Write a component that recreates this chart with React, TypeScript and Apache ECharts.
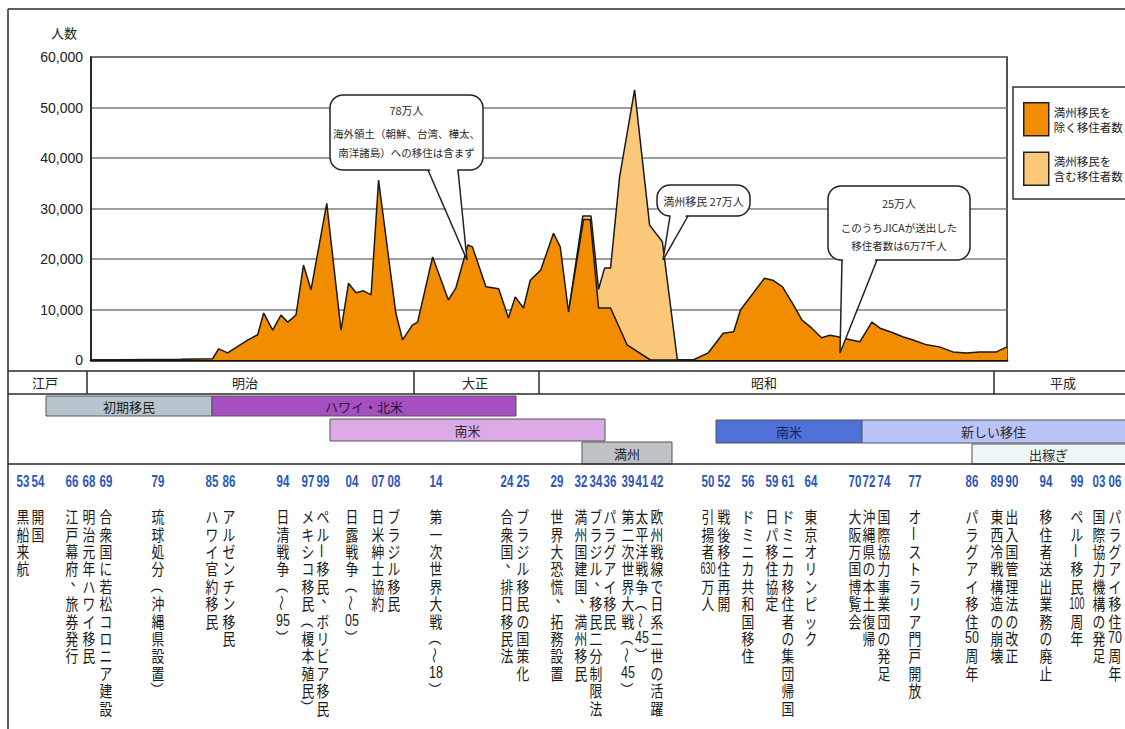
import React, { useEffect, useRef } from "react";
import * as echarts from "echarts";

const JP = "'Noto Sans CJK JP', 'Noto Sans', sans-serif";
const LAT = "'Liberation Sans', 'Noto Sans', sans-serif";

// ---------- data ----------
const yTicks = [0, 10000, 20000, 30000, 40000, 50000, 60000];
const yTickLabels = ["0", "10,000", "20,000", "30,000", "40,000", "50,000", "60,000"];
const yAxisTitle = "人数";

const seriesNames = ["満州移民を\n除く移住者数", "満州移民を\n含む移住者数"];

// 満州移民を除く移住者数
const excludeYears = [
  1868, 1880, 1884.2, 1885.0, 1886.2, 1888.9, 1890.2, 1891.0, 1892.2, 1893.3, 1894.2, 1895.3,
  1896.3, 1897.3, 1899.4, 1901.3, 1902.3, 1903.3, 1904.3, 1905.3, 1906.3, 1908.6, 1909.5,
  1910.8, 1911.5, 1913.5, 1915.6, 1916.6, 1918.2, 1918.8, 1920.6, 1922.3, 1923.6, 1924.5,
  1925.6, 1926.5, 1927.9, 1929.6, 1930.5, 1931.6, 1933.6, 1934.5, 1935.6, 1937.2, 1939.4,
  1942.5, 1948.2, 1950.2, 1952.2, 1953.6, 1954.5, 1957.7, 1958.8, 1960.1, 1961.4, 1962.7,
  1964.0, 1965.3, 1966.4, 1967.5, 1969.1, 1970.4, 1972.0, 1973.1, 1974.8, 1976.1, 1977.4,
  1979.3, 1981.0, 1982.8, 1984.6, 1986.3, 1988.6, 1990,
];
const excludeValues = [
  0, 150, 250, 2200, 1400, 4000, 5000, 9300, 5900, 8900, 7500, 8900,
  18800, 13900, 31000, 5900, 15200, 13300, 13700, 12900, 35600, 9300, 4000,
  6900, 7500, 20400, 11900, 14300, 22800, 22400, 14500, 14100, 8300, 12500,
  10300, 15800, 17800, 25100, 22400, 9500, 27800, 27800, 10300, 10300, 3000,
  0, 0, 1400, 5300, 5600, 9900, 16200, 15800, 14500, 11300, 7900,
  6300, 4400, 4900, 4600, 4000, 3600, 7500, 6300, 5400, 4600, 4000,
  3000, 2600, 1600, 1400, 1600, 1600, 2600,
];

// 満州移民を含む移住者数 (differs only in the 1930s-40s)
const includeYears = [1931.6, 1933.5, 1934.6, 1935.6, 1936.4, 1937.2, 1938.4, 1940.4, 1942.4, 1944.1, 1946.1];
const includeValues = [9500, 28500, 28500, 14000, 18200, 18200, 36200, 53500, 26700, 23400, 0];

const eraNames = ["江戸", "明治", "大正", "昭和", "平成"];
const bandNames = ["初期移民", "ハワイ・北米", "南米", "満州", "南米", "新しい移住", "出稼ぎ"];

const eventYearLabels = [
  "53", "54", "66", "68", "69", "79", "85", "86", "94", "97", "99", "04", "07", "08", "14",
  "24", "25", "29", "32", "34", "36", "39", "41", "42", "50", "52", "56", "59", "61", "64",
  "70", "72", "74", "77", "86", "89", "90", "94", "99", "03", "06",
];
const eventTexts = [
  "黒船来航", "開国", "江戸幕府、旅券発行", "明治元年ハワイ移民", "合衆国に若松コロニア建設",
  "琉球処分（沖縄県設置）", "ハワイ官約移民", "アルゼンチン移民", "日清戦争（～95）",
  "メキシコ移民（榎本殖民）", "ペルー移民、ボリビア移民", "日露戦争（～05）", "日米紳士協約",
  "ブラジル移民", "第一次世界大戦（～18）", "合衆国、排日移民法", "ブラジル移民の国策化",
  "世界大恐慌、拓務設置", "満州国建国、満州移民", "ブラジル、移民二分制限法", "パラグアイ移民",
  "第二次世界大戦（～45）", "太平洋戦争（～45）", "欧州戦線で日系二世の活躍", "引揚者630万人",
  "戦後移住再開", "ドミニカ共和国移住", "日パ移住協定", "ドミニカ移住者の集団帰国", "東京オリンピック",
  "大阪万国博覧会", "沖縄県の本土復帰", "国際協力事業団の発足", "オーストラリア門戸開放",
  "パラグアイ移住50周年", "東西冷戦構造の崩壊", "出入国管理法の改正", "移住者送出業務の廃止",
  "ペルー移民100周年", "国際協力機構の発足", "パラグアイ移住70周年",
];

const calloutTexts = [
  ["78万人", "海外領土（朝鮮、台湾、樺太、", "南洋諸島）への移住は含まず"],
  ["満州移民 27万人"],
  ["25万人", "このうちJICAが送出した", "移住者数は6万7千人"],
];

// ---------- layout (positions only) ----------
const ERA_TOP = 371;
const ERA_BOTTOM = 394;
const ERA_DIVIDERS = [87, 414, 539, 994];
const ERA_LABEL_X = [45, 245, 475, 764, 1063];
const BAND_LAYOUT = [
  { x0: 46, x1: 212, y0: 396, y1: 416, fill: "#b9c5cd", color: "#1e1e1e" },
  { x0: 212, x1: 516, y0: 396, y1: 416, fill: "#a54fc0", color: "#2e1236" },
  { x0: 330, x1: 605, y0: 419, y1: 441, fill: "#dcaae6", color: "#2a2a2a" },
  { x0: 582, x1: 672, y0: 442, y1: 464, fill: "#bfc3c6", color: "#1e1e1e" },
  { x0: 716, x1: 862, y0: 420, y1: 443, fill: "#4f70d6", color: "#14235e" },
  { x0: 862, x1: 1130, y0: 420, y1: 443, fill: "#bac3f8", color: "#2a2a2a" },
  { x0: 972, x1: 1130, y0: 444, y1: 464, fill: "#eef6f7", color: "#2a2a2a" },
];
const BAND_SEP_Y = 464;
const EVENT_X = [
  23, 38, 72, 89, 106, 158, 212, 229, 283, 308, 323, 352, 378, 394, 436,
  507, 523, 557, 581, 596, 610, 628, 642, 657, 708, 724, 748, 772, 788, 811,
  855, 869, 884, 915, 972, 997, 1012, 1046, 1077, 1099, 1115,
];
const YEAR_LABEL_Y = 481;
const COLUMN_Y0 = 516;
const COLUMN_PITCH = 17.4;
const COLUMN_FONT = 16;
const COLUMN_SQUEEZE = 0.8;
const CALLOUT_LAYOUT = [
  { box: [330, 95, 153, 75], base: [[428, 170], [458, 170]], tip: [467, 260], lineY: [110, 133, 152], size: [11, 10.5, 10.5] },
  { box: [657, 185, 93, 31], base: [[670, 216], [688, 216]], tip: [663, 260], lineY: [201], size: [11] },
  { box: [828, 186, 142, 74], base: [[842, 260], [877, 260]], tip: [840, 353], lineY: [203, 227, 245], size: [11, 10.5, 10.5] },
];

// ---------- helpers ----------
const ROTATED = new Set(["ー", "～", "〜", "（", "）", "-"]);

function tokenize(text: string): string[] {
  const out: string[] = [];
  let i = 0;
  while (i < text.length) {
    if (/[0-9]/.test(text[i])) {
      let j = i;
      while (j < text.length && /[0-9]/.test(text[j])) j++;
      out.push(text.slice(i, j));
      i = j;
    } else {
      out.push(text[i]);
      i++;
    }
  }
  return out;
}

function verticalColumn(text: string, cx: number): any[] {
  const tokens = tokenize(text);
  return tokens.map((t, k) => {
    const y = COLUMN_Y0 + k * COLUMN_PITCH;
    const el: any = {
      type: "text",
      x: cx,
      y,
      scaleX: COLUMN_SQUEEZE,
      style: {
        text: t,
        x: 0,
        y: 0,
        align: "center",
        verticalAlign: "middle",
        fontSize: COLUMN_FONT,
        fontFamily: JP,
        fill: "#1a1a1a",
      },
    };
    if (ROTATED.has(t)) {
      el.rotation = -Math.PI / 2;
      el.scaleX = 1;
      el.scaleY = COLUMN_SQUEEZE;
    }
    if (t === "、") {
      el.x = cx + COLUMN_FONT * 0.3;
      el.y = y - COLUMN_FONT * 0.5;
    }
    if (/^[0-9]+$/.test(t)) {
      el.style.fontFamily = LAT;
      el.style.fontSize = COLUMN_FONT;
      el.scaleX = t.length === 1 ? 0.9 : t.length === 2 ? 0.78 : 0.56;
    }
    return el;
  });
}

function buildGraphics(): any[] {
  const els: any[] = [];
  const line = (x1: number, y1: number, x2: number, y2: number, w = 1.5, c = "#2a2a2a") => ({
    type: "line",
    shape: { x1, y1, x2, y2 },
    style: { stroke: c, lineWidth: w },
    silent: true,
  });

  // outer frame
  els.push(line(8, 9, 1125, 9));
  els.push(line(8, 9, 8, 729));

  // axis title
  els.push({
    type: "text",
    x: 64,
    y: 32,
    style: { text: yAxisTitle, align: "center", verticalAlign: "middle", fontSize: 13, fontFamily: JP, fill: "#222" },
  });

  // era row
  els.push(line(8, ERA_TOP, 1125, ERA_TOP));
  els.push(line(8, ERA_BOTTOM, 1125, ERA_BOTTOM));
  ERA_DIVIDERS.forEach((x) => els.push(line(x, ERA_TOP, x, ERA_BOTTOM)));
  eraNames.forEach((name, i) =>
    els.push({
      type: "text",
      x: ERA_LABEL_X[i],
      y: (ERA_TOP + ERA_BOTTOM) / 2,
      style: { text: name, align: "center", verticalAlign: "middle", fontSize: 13, fontFamily: JP, fill: "#222" },
    })
  );

  // migration period bands
  bandNames.forEach((name, i) => {
    const b = BAND_LAYOUT[i];
    els.push({
      type: "rect",
      shape: { x: b.x0, y: b.y0, width: b.x1 - b.x0, height: b.y1 - b.y0 },
      style: { fill: b.fill, stroke: "#555", lineWidth: 1 },
    });
    els.push({
      type: "text",
      x: (b.x0 + Math.min(b.x1, 1125)) / 2,
      y: (b.y0 + b.y1) / 2,
      style: { text: name, align: "center", verticalAlign: "middle", fontSize: 13, fontFamily: JP, fill: b.color },
    });
  });
  els.push(line(8, BAND_SEP_Y, 1125, BAND_SEP_Y));

  // events: year labels + vertical texts
  eventYearLabels.forEach((lab, i) => {
    els.push({
      type: "text",
      x: EVENT_X[i],
      y: YEAR_LABEL_Y,
      scaleX: 0.72,
      style: {
        text: lab,
        x: 0,
        y: 0,
        align: "center",
        verticalAlign: "middle",
        fontSize: 16,
        fontWeight: "bold",
        fontFamily: LAT,
        fill: "#2d56b8",
      },
    });
    els.push(...verticalColumn(eventTexts[i], EVENT_X[i]));
  });

  // callouts
  calloutTexts.forEach((lines, i) => {
    const c = CALLOUT_LAYOUT[i];
    const [bx, by, bw, bh] = c.box;
    els.push({
      type: "rect",
      shape: { x: bx, y: by, width: bw, height: bh, r: 13 },
      style: { fill: "#fff", stroke: "#222", lineWidth: 1.5 },
      z: 10,
    });
    const [p1, p2] = c.base;
    els.push({
      type: "polygon",
      shape: { points: [[p1[0] + 1, p1[1] - 3], c.tip, [p2[0] - 1, p2[1] - 3]] },
      style: { fill: "#fff", stroke: "none" },
      z: 11,
    });
    els.push({ ...line(p1[0], p1[1], c.tip[0], c.tip[1], 1.5, "#222"), z: 12 });
    els.push({ ...line(p2[0], p2[1], c.tip[0], c.tip[1], 1.5, "#222"), z: 12 });
    lines.forEach((t, k) =>
      els.push({
        type: "text",
        x: bx + bw / 2,
        y: c.lineY[k],
        z: 13,
        style: { text: t, align: "center", verticalAlign: "middle", fontSize: c.size[k], fontFamily: JP, fill: "#2a2a2a" },
      })
    );
  });

  return els;
}

function buildOption(): any {
  const excludeData = excludeYears.map((y, i) => [y, excludeValues[i]]);
  const includeData = includeYears.map((y, i) => [y, includeValues[i]]);
  return {
    animation: false,
    backgroundColor: "#ffffff",
    textStyle: { fontFamily: JP },
    grid: {
      left: 91,
      right: 118,
      top: 57,
      bottom: 369,
      show: true,
      borderColor: "#1a1a1a",
      borderWidth: 1.5,
      backgroundColor: "transparent",
      outerBoundsMode: "none",
    },
    xAxis: {
      type: "value",
      min: 1868,
      max: 1990,
      axisLine: { show: true, onZero: false, lineStyle: { color: "#111", width: 2.5 } },
      axisTick: { show: false },
      axisLabel: { show: false },
      splitLine: { show: false },
    },
    yAxis: {
      type: "value",
      min: 0,
      max: 60000,
      interval: 10000,
      axisLine: { show: true, lineStyle: { color: "#1a1a1a", width: 1.5 } },
      axisTick: { show: false },
      axisLabel: {
        formatter: (v: number) => yTickLabels[yTicks.indexOf(v)] ?? "",
        fontSize: 14,
        color: "#222",
        margin: 8,
        fontFamily: LAT,
      },
      splitLine: { lineStyle: { color: "#7d7d7d", width: 1.5 } },
    },
    legend: {
      orient: "vertical",
      left: 1013,
      top: 87,
      padding: [15, 12, 13, 10],
      itemGap: 15,
      itemWidth: 25,
      itemHeight: 33,
      icon: "rect",
      selectedMode: false,
      backgroundColor: "#fff",
      borderColor: "#333",
      borderWidth: 1.5,
      itemStyle: { borderColor: "#222", borderWidth: 1.5 },
      textStyle: { fontSize: 11.5, lineHeight: 15, color: "#1a1a1a", fontFamily: JP },
      data: [seriesNames[0], seriesNames[1]],
    },
    series: [
      {
        name: seriesNames[1],
        type: "line",
        data: includeData,
        symbol: "none",
        z: 2,
        lineStyle: { color: "#1a1a1a", width: 1.5 },
        itemStyle: { color: "#fbc87a" },
        areaStyle: { color: "#fbc87a", opacity: 1 },
      },
      {
        name: seriesNames[0],
        type: "line",
        data: excludeData,
        symbol: "none",
        z: 3,
        lineStyle: { color: "#1a1a1a", width: 1.5 },
        itemStyle: { color: "#f28c00" },
        areaStyle: { color: "#f28c00", opacity: 1 },
      },
    ],
    graphic: { elements: buildGraphics() },
  };
}

export default function App() {
  const ref = useRef<HTMLDivElement>(null);
  useEffect(() => {
    if (!ref.current) return;
    const chart = echarts.init(ref.current, null, { renderer: "svg" });
    chart.setOption(buildOption());
    return () => chart.dispose();
  }, []);
  return (
    <div
      ref={ref}
      style={{ position: "absolute", left: 0, top: 0, width: 1125, height: 729, background: "#fff" }}
    />
  );
}
